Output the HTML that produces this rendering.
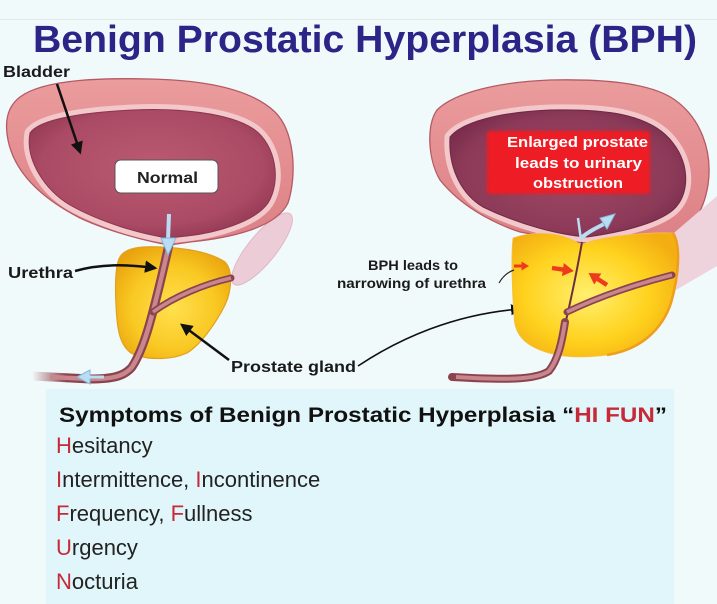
<!DOCTYPE html>
<html><head><meta charset="utf-8"><style>
html,body{margin:0;padding:0;background:#f1fafb;}
svg{display:block;}
text{font-family:"Liberation Sans",Arial,sans-serif;}
</style></head><body>
<svg width="717" height="604" viewBox="0 0 717 604" xmlns="http://www.w3.org/2000/svg">
<defs>
 <radialGradient id="cavL" cx="0.5" cy="0.45" r="0.6"><stop offset="0" stop-color="#bb5a72"/><stop offset="0.75" stop-color="#aa4a64"/><stop offset="1" stop-color="#923752"/></radialGradient>
 <radialGradient id="cavR" cx="0.5" cy="0.5" r="0.6"><stop offset="0" stop-color="#a04a66"/><stop offset="0.75" stop-color="#8c3a58"/><stop offset="1" stop-color="#76294a"/></radialGradient>
 <linearGradient id="wall" x1="0" y1="0" x2="0" y2="1"><stop offset="0" stop-color="#eb9c9c"/><stop offset="1" stop-color="#dc8086"/></linearGradient>
 <radialGradient id="proL" cx="0.5" cy="0.55" r="0.62"><stop offset="0" stop-color="#ffe04e"/><stop offset="0.6" stop-color="#f9c822"/><stop offset="1" stop-color="#e9a30e"/></radialGradient>
 <radialGradient id="proR" cx="0.45" cy="0.5" r="0.62"><stop offset="0" stop-color="#fff06e"/><stop offset="0.6" stop-color="#ffd21e"/><stop offset="1" stop-color="#f3ae12"/></radialGradient>
 <linearGradient id="fadeL" x1="0" y1="0" x2="1" y2="0"><stop offset="0" stop-color="#8a4450" stop-opacity="0"/><stop offset="0.25" stop-color="#8a4450" stop-opacity="1"/></linearGradient>
 <marker id="ah" viewBox="0 0 10 10" refX="8" refY="5" markerWidth="5" markerHeight="5" orient="auto"><path d="M0,0 L10,5 L0,10 z" fill="#111"/></marker>
 <marker id="ahs" viewBox="0 0 10 10" refX="8" refY="5" markerWidth="7" markerHeight="7" orient="auto"><path d="M0,0 L10,5 L0,10 z" fill="#111"/></marker>
 <filter id="soft" x="-10%" y="-20%" width="120%" height="140%"><feGaussianBlur stdDeviation="1.6"/></filter>
</defs>

<rect x="0" y="0" width="717" height="604" fill="#f1fafb"/>
<rect x="0" y="19" width="717" height="1" fill="#e0e9eb"/>

<!-- Title -->
<text x="33" y="52" font-size="38" font-weight="bold" fill="#2c2487" textLength="664" lengthAdjust="spacingAndGlyphs">Benign Prostatic Hyperplasia (BPH)</text>

<!-- ============ LEFT (Normal) ============ -->
<ellipse cx="262" cy="249" rx="45" ry="14" transform="rotate(-51 262 249)" fill="#ecccd7" stroke="#e0b6c4" stroke-width="1"/>
<path d="M120,257 C125,248 140,246 160,247 C185,248 210,252 225,262 C233,270 232,290 225,305 C215,325 200,345 187,353 C172,360 150,360 135,355 C120,349 117,330 116,305 C115,285 115,265 120,257 Z" fill="url(#proL)" stroke="#e2a020" stroke-width="1.2"/>
<path d="M20,97 C45,78 110,78 150,79 C200,80 250,88 275,112 C295,132 297,175 288,203 C276,228 230,238 190,242 L170,245 C150,242 110,232 80,218 C45,200 15,175 8,140 C4,120 8,106 20,97 Z" fill="url(#wall)" stroke="#b45a66" stroke-width="1.3"/>
<path d="M30,133 C40,118 90,112 133,110 C175,108 230,112 255,130 C275,145 282,180 268,203 C255,222 215,233 187,236 L168,238 C140,234 100,222 70,205 C45,190 25,160 30,133 Z" fill="#f3c8ca" stroke="#f3c8ca" stroke-width="11" stroke-linejoin="round"/>
<path d="M30,133 C40,118 90,112 133,110 C175,108 230,112 255,130 C275,145 282,180 268,203 C255,222 215,233 187,236 L168,238 C140,234 100,222 70,205 C45,190 25,160 30,133 Z" fill="url(#cavL)" stroke="#8c3450" stroke-width="1"/>
<path d="M170,240 C166,258 160,285 152,315 C146,338 140,355 132,367 C124,377 110,379 90,379 L32,376" fill="none" stroke="url(#fadeL)" stroke-width="9" stroke-linecap="round"/>
<path d="M170,240 C166,258 160,285 152,315 C146,338 140,355 132,367 C124,377 110,379 90,379 L50,377" fill="none" stroke="#c9868c" stroke-width="4.5"/>
<path d="M153,312 C175,296 205,284 231,278" fill="none" stroke="#8a4450" stroke-width="7" stroke-linecap="round"/>
<path d="M153,312 C175,296 205,284 231,278" fill="none" stroke="#c9868c" stroke-width="3.5"/>
<path d="M169,214 L168,240" stroke="#b9ddf2" stroke-width="4"/>
<polygon points="161,238 176,238 168,255" fill="#b9ddf2" stroke="#86b8dc" stroke-width="1"/>
<polygon points="77,377 90,370 90,384" fill="#b9ddf2" stroke="#86b8dc" stroke-width="1"/>
<path d="M89,377 L104,377" stroke="#b9ddf2" stroke-width="3"/>

<rect x="115" y="160" width="103" height="33" rx="6" fill="#ffffff" stroke="#555" stroke-width="1"/>
<text x="137" y="183" font-size="16" font-weight="bold" fill="#222" textLength="61" lengthAdjust="spacingAndGlyphs">Normal</text>

<text x="3" y="77" font-size="16" font-weight="bold" fill="#1a1a1a" textLength="67" lengthAdjust="spacingAndGlyphs">Bladder</text>
<path d="M57,84 L80,152" stroke="#111" stroke-width="2.5" fill="none" marker-end="url(#ah)"/>
<text x="8" y="278" font-size="16" font-weight="bold" fill="#1a1a1a" textLength="65" lengthAdjust="spacingAndGlyphs">Urethra</text>
<path d="M75,271 C100,264 125,264 155,268" stroke="#111" stroke-width="2.5" fill="none" marker-end="url(#ah)"/>
<text x="231" y="372" font-size="16" font-weight="bold" fill="#1a1a1a" textLength="125" lengthAdjust="spacingAndGlyphs">Prostate gland</text>
<path d="M229,360 L182,325" stroke="#111" stroke-width="2.5" fill="none" marker-end="url(#ah)"/>
<path d="M358,366 C400,338 455,314 520,309" stroke="#111" stroke-width="1.6" fill="none" marker-end="url(#ahs)"/>

<!-- ============ RIGHT (BPH) ============ -->
<path d="M437,110 C455,92 500,82 550,80 C600,79 650,82 675,100 C700,118 713,150 708,185 C703,215 690,230 670,236 L600,240 L582,243 L520,232 C490,222 460,205 440,180 C428,160 426,125 437,110 Z" fill="url(#wall)" stroke="#b45a66" stroke-width="1.3"/>
<path d="M450,137 C462,122 500,112 550,110 C600,109 650,112 673,143 C690,165 690,195 673,210 C655,225 615,233 587,237 C560,235 520,225 483,207 C463,195 448,170 450,137 Z" fill="#f3c8ca" stroke="#f3c8ca" stroke-width="11" stroke-linejoin="round"/>
<path d="M450,137 C462,122 500,112 550,110 C600,109 650,112 673,143 C690,165 690,195 673,210 C655,225 615,233 587,237 C560,235 520,225 483,207 C463,195 448,170 450,137 Z" fill="url(#cavR)" stroke="#6e2844" stroke-width="1"/>
<polygon points="668,238 717,196 717,266 676,290" fill="#efd3dc"/>
<path d="M513,238 C530,232 560,230 581,245 C600,236 650,232 673,233 C681,245 679,275 671,303 C662,330 640,350 607,355 C585,358 560,358 540,350 C520,342 514,330 514,315 C512,290 511,255 513,238 Z" fill="url(#proR)" stroke="#f4c040" stroke-width="0.8"/>
<path d="M673,233 C681,245 679,275 671,303 C662,330 640,350 607,355" fill="none" stroke="#ee9e1a" stroke-width="2.5"/>
<path d="M582,242 C578,265 572,295 565,325" fill="none" stroke="#6a3040" stroke-width="2"/>
<path d="M565,322 C562,342 558,360 549,371 C536,380 505,380 452,377" fill="none" stroke="#8a4450" stroke-width="8" stroke-linecap="round"/>
<path d="M565,322 C562,342 558,360 549,371 C536,380 505,380 456,377" fill="none" stroke="#c9868c" stroke-width="4"/>
<path d="M567,312 C600,296 640,283 672,275" fill="none" stroke="#8a4450" stroke-width="7" stroke-linecap="round"/>
<path d="M567,312 C600,296 640,283 672,275" fill="none" stroke="#c9868c" stroke-width="3.5"/>
<path d="M578,218 L581,240" stroke="#b9ddf2" stroke-width="2.5" fill="none"/>
<path d="M581,238 C588,232 596,228 604,224" stroke="#b9ddf2" stroke-width="4" fill="none"/>
<polygon points="615,214 600,218 607,229" fill="#b9ddf2" stroke="#86b8dc" stroke-width="1"/>
<polygon points="0,-2 10,-2 10,-6 20,0 10,6 10,2 0,2" fill="#ee3b1c" transform="translate(514,266) scale(0.75)"/>
<polygon points="0,-2 10,-2 10,-6 20,0 10,6 10,2 0,2" fill="#ee3b1c" transform="translate(552,268) rotate(8) scale(1.1)"/>
<polygon points="0,-2 10,-2 10,-6 20,0 10,6 10,2 0,2" fill="#ee3b1c" transform="translate(607,285) rotate(213) scale(1.1)"/>
<text x="368" y="270" font-size="14" font-weight="bold" fill="#1a1a1a" textLength="90" lengthAdjust="spacingAndGlyphs">BPH leads to</text>
<text x="337" y="288" font-size="14" font-weight="bold" fill="#1a1a1a" textLength="149" lengthAdjust="spacingAndGlyphs">narrowing of urethra</text>
<path d="M499,283 C503,276 508,272 514,270" stroke="#222" stroke-width="1.2" fill="none"/>

<rect x="487" y="131" width="163" height="63" rx="3" fill="#ec1c24" filter="url(#soft)"/>
<rect x="489" y="133" width="159" height="59" rx="2" fill="#ee1d25"/>
<text x="507" y="147" font-size="15" font-weight="bold" fill="#ffffff" textLength="141" lengthAdjust="spacingAndGlyphs">Enlarged prostate</text>
<text x="515" y="168" font-size="15" font-weight="bold" fill="#ffffff" textLength="127" lengthAdjust="spacingAndGlyphs">leads to urinary</text>
<text x="533" y="188" font-size="15" font-weight="bold" fill="#ffffff" textLength="90" lengthAdjust="spacingAndGlyphs">obstruction</text>

<!-- ============ SYMPTOMS ============ -->
<rect x="46" y="389" width="628" height="215" fill="#e1f6fa"/>
<text x="59" y="422" font-size="21" font-weight="bold" fill="#111" textLength="608" lengthAdjust="spacingAndGlyphs">Symptoms of Benign Prostatic Hyperplasia “<tspan fill="#c62a38">HI FUN</tspan>”</text>
<g font-size="22" fill="#222">
<text x="56" y="453"><tspan fill="#c62a38">H</tspan>esitancy</text>
<text x="56" y="487"><tspan fill="#c62a38">I</tspan>ntermittence, <tspan fill="#c62a38">I</tspan>ncontinence</text>
<text x="56" y="521"><tspan fill="#c62a38">F</tspan>requency, <tspan fill="#c62a38">F</tspan>ullness</text>
<text x="56" y="555"><tspan fill="#c62a38">U</tspan>rgency</text>
<text x="56" y="589"><tspan fill="#c62a38">N</tspan>octuria</text>
</g>
</svg>
</body></html>
